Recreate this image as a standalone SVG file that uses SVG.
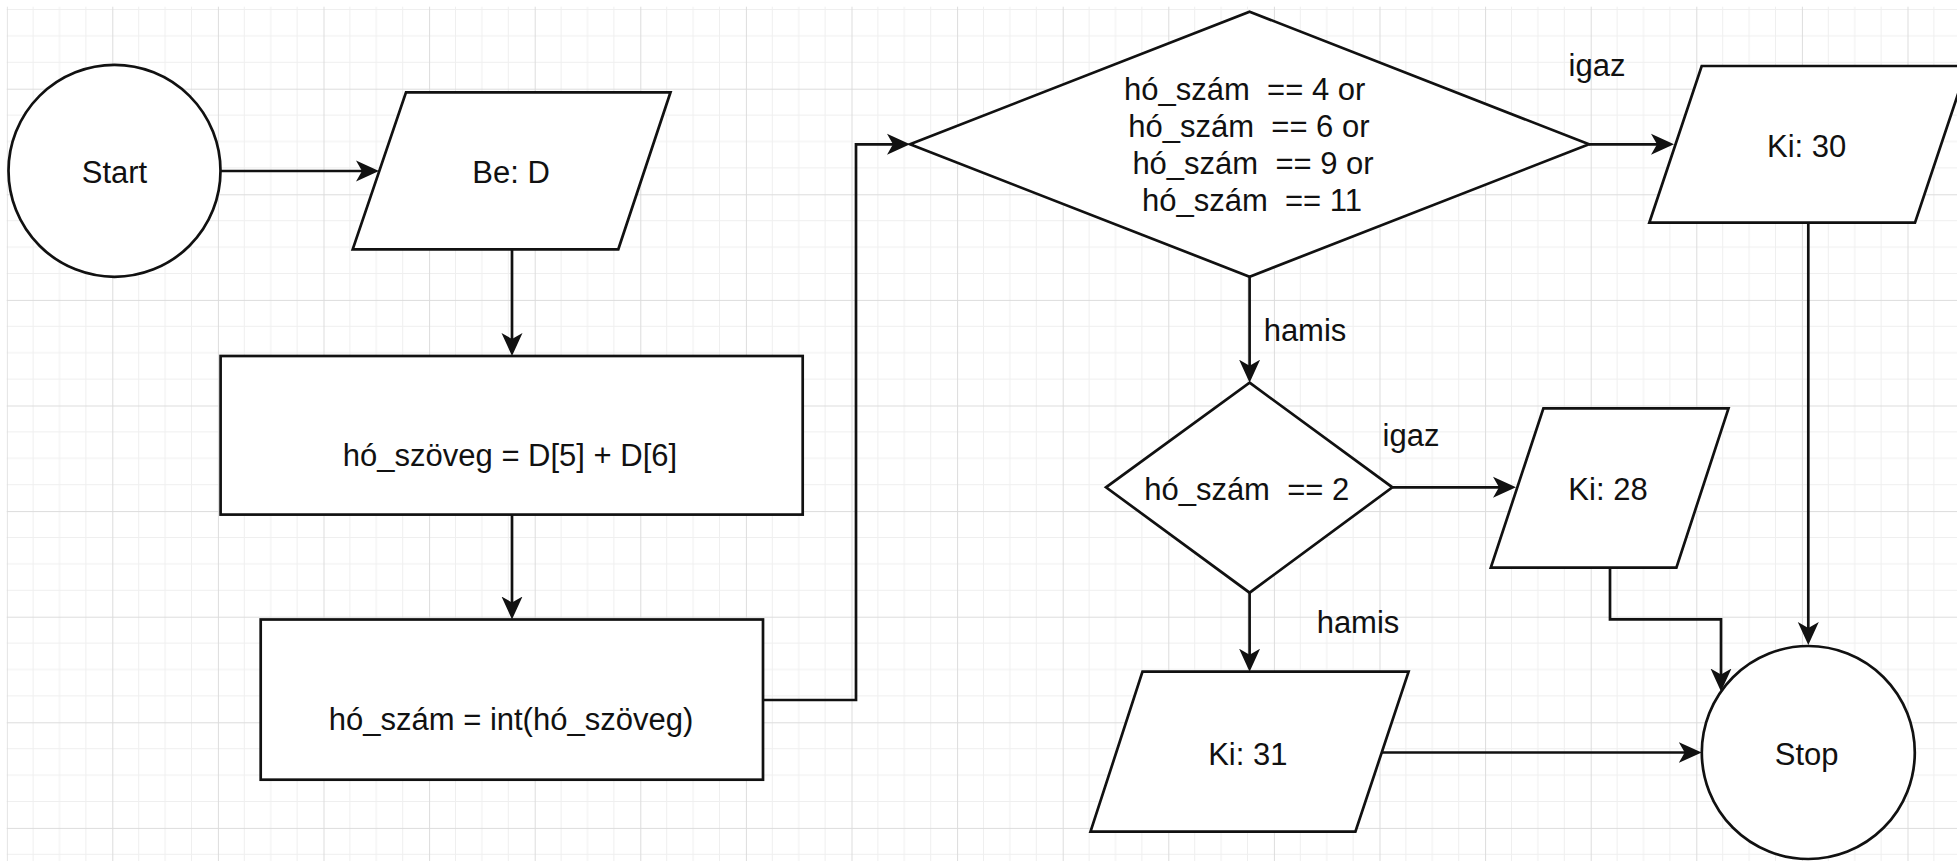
<svg xmlns="http://www.w3.org/2000/svg" width="1957" height="861" viewBox="0 0 1957 861">
<style>
.n{fill:#fff;stroke:#111;stroke-width:2.7}
.c{fill:none;stroke:#111;stroke-width:2.7;marker-end:url(#ah)}
text{font-family:"Liberation Sans",Arial,sans-serif;font-size:31px;fill:#111;text-anchor:middle}
</style>
<defs>
<marker id="ah" markerUnits="userSpaceOnUse" markerWidth="24" markerHeight="24" refX="15" refY="11.5" orient="auto">
<path d="M0,1 L23,11.5 L0,22 L6,11.5 Z" fill="#111"/>
</marker>
<pattern id="grid" patternUnits="userSpaceOnUse" x="6.7" y="-16.9" width="105.6" height="105.6">
<path d="M26.4,0V105.6M52.8,0V105.6M79.2,0V105.6M0,26.4H105.6M0,52.8H105.6M0,79.2H105.6" stroke="#efefef" stroke-width="1" fill="none"/>
<path d="M0.5,0V105.6M0,0.5H105.6" stroke="#dcdcdc" stroke-width="1" fill="none"/>
</pattern>
</defs>
<rect width="1957" height="861" fill="#fff"/>
<rect x="6.7" y="6.7" width="1951" height="855" fill="url(#grid)"/>
<g id="connectors">
<path class="c" d="M220,171 H371"/>
<path class="c" d="M512,249.3 V348"/>
<path class="c" d="M512,514.6 V611.5"/>
<path class="c" d="M763,700 H856 V144.3 H902"/>
<path class="c" d="M1589,144.3 H1666"/>
<path class="c" d="M1249.6,276.7 V374.7"/>
<path class="c" d="M1392.4,487.3 H1508"/>
<path class="c" d="M1249.6,592.7 V663.7"/>
<path class="c" d="M1381.7,752.5 H1693.7"/>
<path class="c" d="M1610,567.7 V619.3 H1721 V683.5"/>
<path class="c" d="M1808.3,222.7 V637"/>
<text x="1597" y="76">igaz</text>
<text x="1305" y="341">hamis</text>
<text x="1411" y="446">igaz</text>
<text x="1358" y="633">hamis</text>
</g>
<g id="start">
<circle class="n" cx="114.5" cy="170.8" r="106"/>
<text x="114.5" y="183">Start</text>
</g>
<g id="be_d">
<polygon class="n" points="406,92.3 670.5,92.3 618.3,249.3 352.7,249.3"/>
<text x="511" y="183">Be: D</text>
</g>
<g id="ho_szoveg">
<rect class="n" x="220.6" y="356" width="582.1" height="158.6"/>
<text x="510" y="465.5">hó_szöveg = D[5] + D[6]</text>
</g>
<g id="ho_szam">
<rect class="n" x="260.7" y="619.5" width="502.3" height="160.2"/>
<text x="511" y="729.6">hó_szám = int(hó_szöveg)</text>
</g>
<g id="cond1">
<polygon class="n" points="1249.6,11.7 1589,144.3 1249.6,276.7 910,144.3"/>
<text x="1244.7" y="100" xml:space="preserve">hó_szám  == 4 or</text>
<text x="1248.9" y="136.7" xml:space="preserve">hó_szám  == 6 or</text>
<text x="1253" y="174" xml:space="preserve">hó_szám  == 9 or</text>
<text x="1252" y="210.7" xml:space="preserve">hó_szám  == 11</text>
</g>
<g id="ki30">
<polygon class="n" points="1701.7,66 1967.4,66 1915,222.7 1649.3,222.7"/>
<text x="1806.7" y="156.7">Ki: 30</text>
</g>
<g id="cond2">
<polygon class="n" points="1249.6,382.7 1392.4,487.3 1249.6,592.7 1106,487.3"/>
<text x="1246.7" y="500" xml:space="preserve">hó_szám  == 2</text>
</g>
<g id="ki28">
<polygon class="n" points="1543.4,408.3 1728.5,408.3 1676.4,567.7 1490.8,567.7"/>
<text x="1608" y="500">Ki: 28</text>
</g>
<g id="ki31">
<polygon class="n" points="1142.5,671.7 1408.6,671.7 1355.4,831.7 1090.5,831.7"/>
<text x="1247.8" y="765">Ki: 31</text>
</g>
<g id="stop">
<circle class="n" cx="1808.3" cy="752.5" r="106.5"/>
<text x="1806.7" y="765">Stop</text>
</g>
</svg>
